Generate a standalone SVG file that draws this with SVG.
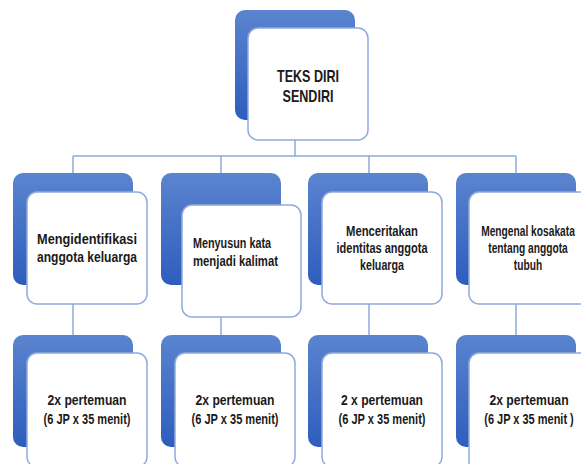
<svg xmlns="http://www.w3.org/2000/svg" width="581" height="464" viewBox="0 0 581 464">
<defs>
<linearGradient id="bg" x1="0" y1="0" x2="0" y2="1">
<stop offset="0" stop-color="#5b84cf"/>
<stop offset="1" stop-color="#2e5dbd"/>
</linearGradient>
<style>
.back{fill:url(#bg);}
.front{fill:#ffffff;stroke:#8eaadc;stroke-width:1.5;}
.conn{stroke:#8eaadc;stroke-width:1.5;fill:none;}
.t{font-family:"Liberation Sans",Arial,sans-serif;font-weight:bold;font-size:14px;fill:#1a1a1a;text-anchor:middle;}
.tl{text-anchor:start;}
.top{font-size:17px;}
</style>
</defs>
<rect width="581" height="464" fill="#ffffff"/>
<g id="connectors">
<path class="conn" d="M295 140V156M73 156H516M73 156V173M221 156V173M369 156V173M516 156V173"/>
<path class="conn" d="M73 304V335M221 317V335M369 304V335M516 304V335"/>
</g>
<g id="root">
<rect class="back" x="235" y="10" width="120" height="110" rx="10"/>
<rect class="front" x="248" y="28" width="120" height="112" rx="10"/>
<text class="t top" x="308" y="82" textLength="62" lengthAdjust="spacingAndGlyphs">TEKS DIRI</text>
<text class="t top" x="308" y="102" textLength="51" lengthAdjust="spacingAndGlyphs">SENDIRI</text>
</g>
<g id="n1">
<rect class="back" x="13" y="173" width="120" height="112" rx="10"/>
<rect class="front" x="27" y="192" width="120" height="112" rx="10"/>
<text class="t" x="87" y="244" textLength="100" lengthAdjust="spacingAndGlyphs">Mengidentifikasi</text>
<text class="t" x="87" y="262" textLength="100" lengthAdjust="spacingAndGlyphs">anggota keluarga</text>
</g>
<g id="n2">
<rect class="back" x="161" y="173" width="120" height="112" rx="10"/>
<rect class="front" x="182" y="205" width="119" height="112" rx="10"/>
<text class="t tl" x="193" y="248" textLength="78" lengthAdjust="spacingAndGlyphs">Menyusun kata</text>
<text class="t tl" x="193" y="266" textLength="85" lengthAdjust="spacingAndGlyphs">menjadi kalimat</text>
</g>
<g id="n3">
<rect class="back" x="308" y="173" width="120" height="112" rx="10"/>
<rect class="front" x="322" y="192" width="120" height="112" rx="10"/>
<text class="t" x="382" y="236" textLength="72" lengthAdjust="spacingAndGlyphs">Menceritakan</text>
<text class="t" x="382" y="253" textLength="91" lengthAdjust="spacingAndGlyphs">identitas anggota</text>
<text class="t" x="382" y="270" textLength="44" lengthAdjust="spacingAndGlyphs">keluarga</text>
</g>
<g id="n4">
<rect class="back" x="456" y="173" width="120" height="112" rx="10"/>
<path class="front" d="M583 192H479A10 10 0 0 0 469 202V294A10 10 0 0 0 479 304H583Z"/>
<text class="t" transform="translate(528 236) scale(0.73 1)">Mengenal kosakata</text>
<text class="t" transform="translate(528 253) scale(0.73 1)">tentang anggota</text>
<text class="t" transform="translate(528 270) scale(0.73 1)">tubuh</text>
</g>
<g id="m1">
<rect class="back" x="13" y="335" width="120" height="112" rx="10"/>
<rect class="front" x="27" y="353" width="120" height="114" rx="10"/>
<text class="t" x="87" y="405" textLength="79" lengthAdjust="spacingAndGlyphs">2x pertemuan</text>
<text class="t" x="87" y="424" textLength="87" lengthAdjust="spacingAndGlyphs">(6 JP x 35 menit)</text>
</g>
<g id="m2">
<rect class="back" x="161" y="335" width="120" height="112" rx="10"/>
<rect class="front" x="175" y="353" width="120" height="114" rx="10"/>
<text class="t" x="235" y="405" textLength="79" lengthAdjust="spacingAndGlyphs">2x pertemuan</text>
<text class="t" x="235" y="424" textLength="87" lengthAdjust="spacingAndGlyphs">(6 JP x 35 menit)</text>
</g>
<g id="m3">
<rect class="back" x="308" y="335" width="120" height="112" rx="10"/>
<rect class="front" x="322" y="353" width="120" height="114" rx="10"/>
<text class="t" x="382" y="405" textLength="82" lengthAdjust="spacingAndGlyphs">2 x pertemuan</text>
<text class="t" x="382" y="424" textLength="87" lengthAdjust="spacingAndGlyphs">(6 JP x 35 menit)</text>
</g>
<g id="m4">
<rect class="back" x="456" y="335" width="120" height="112" rx="10"/>
<path class="front" d="M583 353H479A10 10 0 0 0 469 363V467H583Z"/>
<text class="t" transform="translate(529 405) scale(0.87 1)">2x pertemuan</text>
<text class="t" transform="translate(529 424) scale(0.785 1)">(6 JP x 35 menit )</text>
</g>
</svg>
